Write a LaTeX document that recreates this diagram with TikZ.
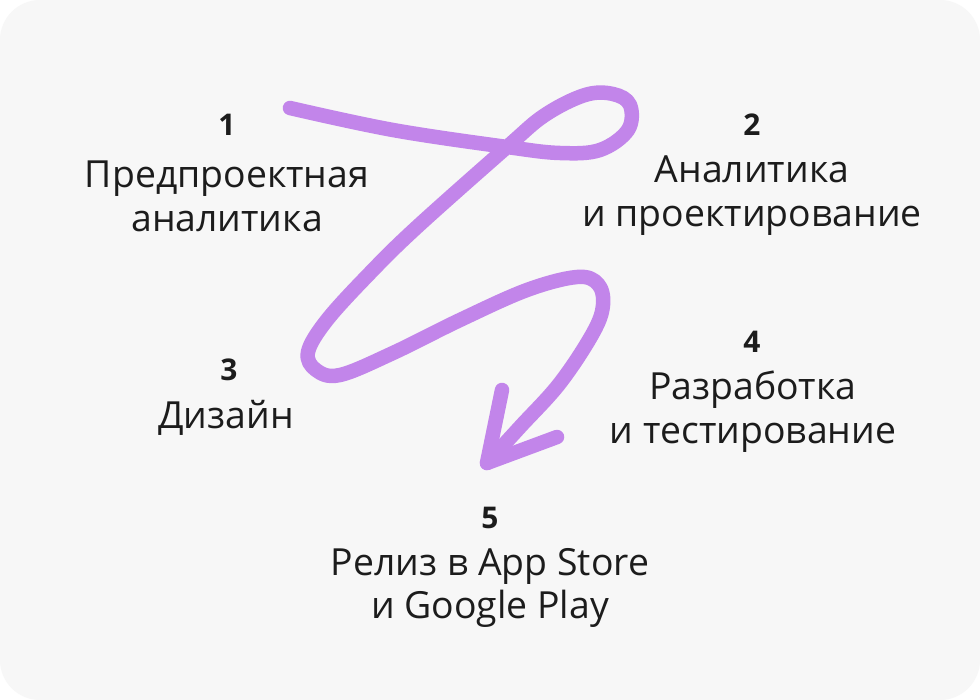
\documentclass[tikz,border=0pt]{standalone}
\usepackage{fontspec}
\setmainfont{Open Sans}
\definecolor{lav}{HTML}{C285EA}
\definecolor{bg}{HTML}{F7F7F7}
\definecolor{ink}{HTML}{1C1C1C}
\begin{document}
\begin{tikzpicture}[x=1bp,y=-1bp,
 num/.style={font=\fontsize{30}{36}\selectfont\bfseries, text=ink, inner sep=0},
 lbl/.style={font=\fontsize{37.5}{44}\selectfont, text=ink, align=center, inner sep=0},
 squiggle/.style={draw=lav, line width=14.5bp, line cap=round, line join=round}]
\useasboundingbox (0,0) rectangle (980,700);
\fill[white] (0,0) rectangle (980,700);
\fill[bg, rounded corners=40bp] (0,0) rectangle (980,700);

% squiggle
\coordinate (tip) at (487,463);
\coordinate (armL) at (502,390);
\coordinate (armR) at (557,437);
\draw[squiggle] plot[smooth, tension=0.6] coordinates {
 (290,108) (393,130) (507,147) (560,153) (600,150) (628,130) (630,105) (613,94)
 (585,95) (545,115) (507,147) (417,227) (370,273) (327,320) (308,352) (316,370)
 (340,375) (393,353) (460,320) (527,290) (577,277) (598,284) (603,305) (593,333)
 (560,383) (520,427) (487,463)};
\draw[squiggle] (armL) -- (tip) -- (armR);

% labels
\node[num] (n1) at (227,125) {1};
\node[lbl] (t1) at (227,196) {Предпроектная\\аналитика};
\node[num] (n2) at (752,125) {2};
\node[lbl] (t2) at (752,196) {Аналитика\\и проектирование};
\node[num] (n3) at (229,370) {3};
\node[lbl] (t3) at (226,418) {Дизайн};
\node[num] (n4) at (752,342) {4};
\node[lbl] (t4) at (753,412) {Разработка\\и тестирование};
\node[num] (n5) at (490,518) {5};
\node[lbl] (t5) at (490,588) {Релиз в App Store\\и Google Play};
\end{tikzpicture}
\end{document}
